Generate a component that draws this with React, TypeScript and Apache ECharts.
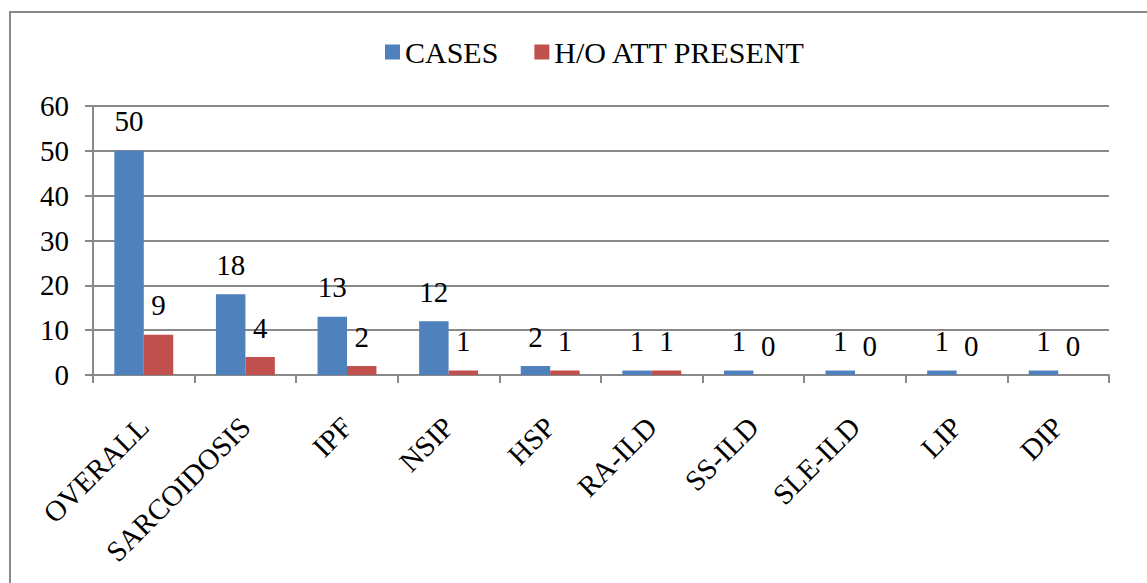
import React, { useEffect, useRef } from "react";
import * as echarts from "echarts";

const categories = ["OVERALL", "SARCOIDOSIS", "IPF", "NSIP", "HSP", "RA-ILD", "SS-ILD", "SLE-ILD", "LIP", "DIP"];
const cases = [50, 18, 13, 12, 2, 1, 1, 1, 1, 1];
const attPresent = [9, 4, 2, 1, 1, 1, 0, 0, 0, 0];
const seriesNames = ["CASES", "H/O ATT PRESENT"];

const FONT = "Liberation Serif";
const GRAY = "#898989";
const FS = 29;

export default function App() {
  const ref = useRef<HTMLDivElement>(null);
  useEffect(() => {
    if (!ref.current) return;
    const chart = echarts.init(ref.current, null, { renderer: "svg" });
    const labelStyle = {
      show: true,
      position: "top" as const,
      distance: 15,
      fontFamily: FONT,
      fontSize: FS,
      color: "#000",
    };
    chart.setOption({
      animation: false,
      backgroundColor: "#fff",
      textStyle: { fontFamily: FONT },
      graphic: [
        {
          type: "rect",
          shape: { x: 10, y: 12, width: 1200, height: 700 },
          style: { fill: "none", stroke: GRAY, lineWidth: 2 },
          silent: true,
        },
      ],
      legend: {
        left: 380,
        top: 32,
        itemWidth: 15,
        itemHeight: 15,
        itemGap: 36,
        icon: "rect",
        textStyle: { fontFamily: FONT, fontSize: 30, color: "#000" },
        data: seriesNames,
      },
      grid: { left: 93, right: 38, top: 106, bottom: 208 },
      xAxis: {
        type: "category",
        data: categories,
        axisLine: { lineStyle: { color: GRAY, width: 2 } },
        axisTick: { show: true, length: 8, lineStyle: { color: GRAY, width: 2 } },
        axisLabel: {
          rotate: 45,
          margin: 47,
          fontFamily: FONT,
          fontSize: FS,
          color: "#000",
          interval: 0,
        },
      },
      yAxis: {
        type: "value",
        min: 0,
        max: 60,
        interval: 10,
        axisLine: { show: true, lineStyle: { color: GRAY, width: 2 } },
        axisTick: { show: true, length: 8, lineStyle: { color: GRAY, width: 2 } },
        splitLine: { show: true, lineStyle: { color: GRAY, width: 2 } },
        axisLabel: { margin: 24, fontFamily: FONT, fontSize: FS, color: "#000" },
      },
      series: [
        {
          name: seriesNames[0],
          type: "bar",
          data: cases,
          barGap: "0%",
          barCategoryGap: "42%",
          itemStyle: { color: "#4F81BD" },
          label: labelStyle,
        },
        {
          name: seriesNames[1],
          type: "bar",
          data: attPresent,
          barGap: "0%",
          barCategoryGap: "42%",
          itemStyle: { color: "#C0504D" },
          label: labelStyle,
        },
      ],
    });
    return () => chart.dispose();
  }, []);
  return (
    <div
      ref={ref}
      style={{ position: "fixed", left: 0, top: 0, width: 1147, height: 583, background: "#fff" }}
    />
  );
}
